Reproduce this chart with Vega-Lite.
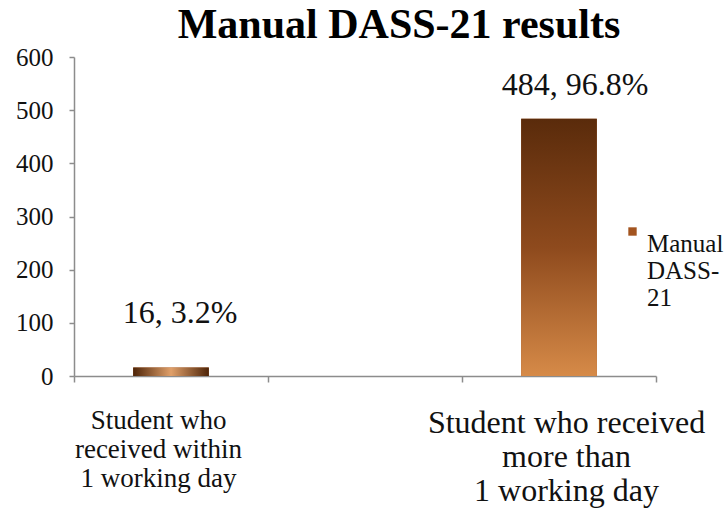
{
  "$schema": "https://vega.github.io/schema/vega-lite/v6.json",
  "autosize": "none",
  "width": 582,
  "height": 319,
  "padding": {"left": 74, "top": 57, "right": 72, "bottom": 137},
  "background": "white",
  "title": {
    "text": "Manual DASS-21 results",
    "font": "Liberation Serif",
    "fontSize": 42,
    "fontWeight": "bold",
    "color": "#000000",
    "anchor": "middle",
    "dx": 34,
    "offset": -2
  },
  "config": {
    "font": "Liberation Serif",
    "view": {"stroke": null},
    "text": {"font": "Liberation Serif"},
    "legend": {"labelFont": "Liberation Serif"},
    "axis": {
      "grid": false,
      "domainColor": "#8c8c8c",
      "tickColor": "#8c8c8c",
      "domainWidth": 1.5,
      "tickWidth": 1.5,
      "labelFont": "Liberation Serif",
      "labelColor": "#111111",
      "title": null
    }
  },
  "data": {
    "values": [
      {"group": "Student who received within 1 working day", "count": 16, "pct": 3.2, "series": "Manual DASS-21"},
      {"group": "Student who received more than 1 working day", "count": 484, "pct": 96.8, "series": "Manual DASS-21"}
    ]
  },
  "transform": [
    {"calculate": "datum.count + ', ' + datum.pct + '%'", "as": "label"}
  ],
  "encoding": {
    "x": {
      "field": "group",
      "type": "nominal",
      "scale": {
        "domain": ["Student who received within 1 working day", " ", "Student who received more than 1 working day"],
        "paddingInner": 0,
        "paddingOuter": 0
      },
      "axis": {
        "tickBand": "extent",
        "tickSize": 6,
        "labelAngle": 0,
        "labelPadding": 25,
        "labelBaseline": "top",
        "labelLimit": 400,
        "labelFontSize": {
          "condition": {"test": "datum.value == 'Student who received within 1 working day'", "value": 27},
          "value": 32
        },
        "labelOffset": {
          "condition": {"test": "datum.value == 'Student who received within 1 working day'", "value": -13},
          "value": 7
        },
        "labelExpr": "datum.value == 'Student who received within 1 working day' ? ['Student who', 'received within', '1 working day'] : datum.value == 'Student who received more than 1 working day' ? ['Student who received', 'more than', '1 working day'] : ''",
        "encode": {
          "labels": {
            "update": {
              "lineHeight": {"signal": "datum.value == 'Student who received within 1 working day' ? 30 : 37"}
            }
          }
        }
      }
    },
    "y": {
      "field": "count",
      "type": "quantitative",
      "scale": {"domain": [0, 600]},
      "axis": {
        "values": [0, 100, 200, 300, 400, 500, 600],
        "tickSize": 5,
        "labelPadding": 16,
        "labelFontSize": 25
      }
    }
  },
  "layer": [
    {
      "mark": {"type": "bar", "width": {"band": 0.39}},
      "encoding": {
        "color": {
          "field": "series",
          "type": "nominal",
          "scale": {"range": ["#a3541f"]},
          "legend": {
            "title": null,
            "orient": "none",
            "legendX": 546,
            "legendY": 162,
            "padding": 0,
            "symbolType": "square",
            "symbolSize": 70,
            "symbolStrokeWidth": 0,
            "labelFont": "Liberation Serif",
            "labelFontSize": 25,
            "labelColor": "#111111",
            "labelLineHeight": 27,
            "labelBaseline": "top",
            "labelOffset": 2,
            "labelLimit": 200,
            "labelExpr": "['Manual', 'DASS-', '21']"
          }
        }
      }
    },
    {
      "transform": [{"filter": "datum.count > 100"}],
      "mark": {
        "type": "bar",
        "width": {"band": 0.39},
        "color": {
          "gradient": "linear",
          "x1": 0, "y1": 0, "x2": 0, "y2": 1,
          "stops": [
            {"offset": 0, "color": "#5a2b0b"},
            {"offset": 0.5, "color": "#8e4a1d"},
            {"offset": 1, "color": "#d68a48"}
          ]
        }
      }
    },
    {
      "transform": [{"filter": "datum.count <= 100"}],
      "mark": {
        "type": "bar",
        "width": {"band": 0.39},
        "color": {
          "gradient": "linear",
          "x1": 0, "y1": 0, "x2": 1, "y2": 0,
          "stops": [
            {"offset": 0, "color": "#4e2408"},
            {"offset": 0.5, "color": "#e0a06a"},
            {"offset": 1, "color": "#4e2408"}
          ]
        }
      }
    },
    {
      "transform": [{"filter": "datum.count <= 100"}],
      "mark": {"type": "text", "font": "Liberation Serif", "fontSize": 32, "color": "#111111", "baseline": "alphabetic", "dx": 9, "dy": -44},
      "encoding": {"text": {"field": "label"}}
    },
    {
      "transform": [{"filter": "datum.count > 100"}],
      "mark": {"type": "text", "font": "Liberation Serif", "fontSize": 32, "color": "#111111", "baseline": "alphabetic", "dx": 16, "dy": -24},
      "encoding": {"text": {"field": "label"}}
    }
  ]
}
